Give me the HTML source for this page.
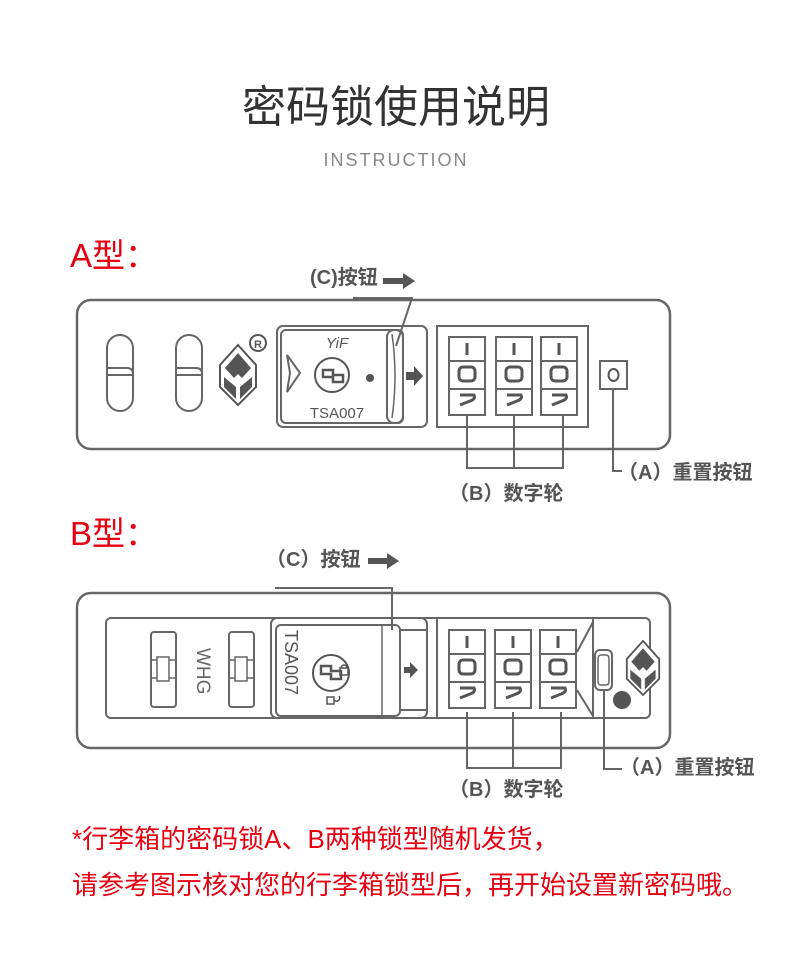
<!DOCTYPE html>
<html><head><meta charset="utf-8"><style>
html,body{margin:0;padding:0;background:#fff;}
svg{display:block;}
text{font-family:"Liberation Sans","Noto Sans CJK SC",sans-serif;}
</style></head><body>
<svg width="790" height="958" viewBox="0 0 790 958" xmlns="http://www.w3.org/2000/svg">
<defs>
<g id="wheel">
  <rect x="0" y="0" width="36" height="78" fill="#fff" stroke="#666" stroke-width="2"/>
  <line x1="0" y1="24" x2="36" y2="24" stroke="#666" stroke-width="2"/>
  <line x1="0" y1="52" x2="36" y2="52" stroke="#666" stroke-width="2"/>
  <line x1="18" y1="6" x2="18" y2="18" stroke="#555" stroke-width="3"/>
  <rect x="10" y="30" width="16" height="14" rx="4" fill="none" stroke="#555" stroke-width="3"/>
  <path d="M11 58 h14 q2 4 -4 6 l-10 4" fill="none" stroke="#555" stroke-width="3"/>
</g>
<g id="logo">
  <path d="M0 -30 L18 -10 L18 12 L0 30 L-18 12 L-18 -10 Z" fill="#fff" stroke="#555" stroke-width="2"/>
  <path d="M0 -22 L13 -7 L4 3 L0 -1 L-4 3 L-13 -7 Z" fill="#555"/>
  <path d="M-14 2 L-2 12 L-2 24 L-14 12 Z M14 2 L2 12 L2 24 L14 12 Z" fill="#555"/>
</g>
</defs>

<text x="396" y="122" text-anchor="middle" font-size="44" fill="#333">密码锁使用说明</text>
<text x="396" y="166" text-anchor="middle" font-size="18" fill="#888" letter-spacing="2">INSTRUCTION</text>

<text x="70" y="267" font-size="33" fill="#e60012">A型：</text>

<!-- A type -->
<text x="310" y="284" font-size="20" font-weight="bold" fill="#555">(C)按钮</text>
<path d="M383 278 h20 v-5 l12 8 l-12 8 v-5 h-20 z" fill="#555"/>
<polyline points="353,298 412,298 396,346" fill="none" stroke="#666" stroke-width="2"/>
<rect x="77" y="300" width="593" height="149" rx="14" fill="none" stroke="#666" stroke-width="2.5"/>
<rect x="107" y="335" width="26" height="76" rx="13" fill="none" stroke="#666" stroke-width="2"/>
<path d="M107 368 h20 q6 0 6 6" fill="none" stroke="#666" stroke-width="2"/>
<line x1="107" y1="375" x2="133" y2="375" stroke="#666" stroke-width="2"/>
<rect x="176" y="335" width="26" height="76" rx="13" fill="none" stroke="#666" stroke-width="2"/>
<path d="M176 368 h20 q6 0 6 6" fill="none" stroke="#666" stroke-width="2"/>
<line x1="176" y1="375" x2="202" y2="375" stroke="#666" stroke-width="2"/>
<use href="#logo" x="238" y="375"/>
<circle cx="258" cy="343" r="8" fill="none" stroke="#555" stroke-width="2"/>
<text x="258" y="348" text-anchor="middle" font-size="11" font-weight="bold" fill="#555">R</text>
<rect x="277" y="326" width="150" height="101" rx="6" fill="none" stroke="#666" stroke-width="2"/>
<rect x="281" y="330" width="122" height="93" rx="5" fill="none" stroke="#666" stroke-width="2"/>
<rect x="387" y="330" width="16" height="93" rx="7" fill="none" stroke="#666" stroke-width="2"/>
<path d="M392 334 q6 42 0 84" fill="none" stroke="#666" stroke-width="1.5"/>
<text x="337" y="348" text-anchor="middle" font-size="15" font-style="italic" font-family="Liberation Serif" fill="#555">YiF</text>
<path d="M287 355 L300 373 L287 392 L290 373 Z" fill="none" stroke="#666" stroke-width="2"/>
<circle cx="332" cy="375" r="17" fill="none" stroke="#555" stroke-width="2"/>
<path d="M323 370 h10 v5 h10 v7 h-10 v-5 h-10 z" fill="none" stroke="#555" stroke-width="2.5"/>
<circle cx="370" cy="378" r="4" fill="#555"/>
<text x="337" y="418" text-anchor="middle" font-size="15" fill="#555">TSA007</text>
<path d="M406 372 h8 v-6 l9 10 l-9 10 v-6 h-8 z" fill="#555"/>
<rect x="437" y="326" width="151" height="101" fill="none" stroke="#666" stroke-width="2"/>
<use href="#wheel" x="449" y="337"/>
<use href="#wheel" x="496" y="337"/>
<use href="#wheel" x="541" y="337"/>
<rect x="600" y="361" width="27" height="28" fill="none" stroke="#666" stroke-width="2"/>
<ellipse cx="613.5" cy="375" rx="5" ry="6" fill="none" stroke="#555" stroke-width="2"/>
<polyline points="467,415 467,468 563,468 563,415" fill="none" stroke="#666" stroke-width="2"/>
<line x1="514" y1="415" x2="514" y2="468" stroke="#666" stroke-width="2"/>
<polyline points="613,389 613,471 622,471" fill="none" stroke="#666" stroke-width="2"/>
<text x="618" y="479" font-size="20" fill="#555" font-weight="bold">（A）重置按钮</text>
<text x="449" y="500" font-size="20" fill="#555" font-weight="bold">（B）数字轮</text>

<text x="70" y="545" font-size="33" fill="#e60012">B型：</text>

<!-- B type -->
<text x="266" y="566" font-size="20" font-weight="bold" fill="#555">（C）按钮</text>
<path d="M368 558 h19 v-5 l12 8 l-12 8 v-5 h-19 z" fill="#555"/>
<polyline points="275,588 392,588 392,630" fill="none" stroke="#666" stroke-width="2"/>
<rect x="77" y="593" width="593" height="155" rx="14" fill="none" stroke="#666" stroke-width="2.5"/>
<rect x="106" y="618" width="544" height="100" rx="5" fill="none" stroke="#666" stroke-width="2"/>
<rect x="151" y="632" width="25" height="75" rx="3" fill="none" stroke="#666" stroke-width="2"/>
<path d="M151 660 h6 v-3 h12 v3 h7 M151 678 h6 v3 h12 v-3 h7 M157 660 v18 M169 660 v18" fill="none" stroke="#666" stroke-width="1.5"/>
<rect x="229" y="632" width="25" height="75" rx="3" fill="none" stroke="#666" stroke-width="2"/>
<path d="M229 660 h6 v-3 h12 v3 h7 M229 678 h6 v3 h12 v-3 h7 M235 660 v18 M247 660 v18" fill="none" stroke="#666" stroke-width="1.5"/>
<text x="0" y="0" transform="translate(197,648) rotate(90)" font-size="19" fill="#666">WHG</text>
<rect x="271" y="618" width="156" height="100" rx="6" fill="none" stroke="#666" stroke-width="2"/>
<rect x="276" y="625" width="124" height="91" rx="5" fill="none" stroke="#666" stroke-width="2"/>
<line x1="382" y1="625" x2="382" y2="716" stroke="#666" stroke-width="1.5"/>
<line x1="400" y1="630" x2="427" y2="630" stroke="#666" stroke-width="2"/>
<line x1="400" y1="710" x2="427" y2="710" stroke="#666" stroke-width="2"/>
<text x="0" y="0" transform="translate(285,630) rotate(90)" font-size="18" fill="#555">TSA007</text>
<circle cx="331" cy="673" r="18" fill="none" stroke="#555" stroke-width="2"/>
<path d="M321 666 h10 v5 h10 v8 h-10 v-5 h-10 z" fill="none" stroke="#555" stroke-width="2.5"/>
<rect x="340" y="668" width="8" height="7" fill="none" stroke="#555" stroke-width="1.5"/>
<path d="M341 668 a3 3 0 0 1 6 0" fill="none" stroke="#555" stroke-width="1.5"/>
<rect x="327" y="697" width="7" height="7" fill="none" stroke="#555" stroke-width="1.5"/>
<path d="M334 700 a3 3 0 0 0 5 -4" fill="none" stroke="#555" stroke-width="1.5"/>
<path d="M404 667 h6 v-5 l8 8 l-8 8 v-5 h-6 z" fill="#555"/>
<line x1="437" y1="618" x2="437" y2="718" stroke="#666" stroke-width="2"/>
<use href="#wheel" x="449" y="630"/>
<use href="#wheel" x="495" y="630"/>
<use href="#wheel" x="540" y="630"/>
<path d="M577 652 L593 622 M577 690 L593 716 M593 618 L593 718" fill="none" stroke="#666" stroke-width="2"/>
<rect x="595" y="650" width="17" height="40" rx="5" fill="none" stroke="#666" stroke-width="2"/>
<rect x="598" y="655" width="11" height="30" rx="3" fill="none" stroke="#666" stroke-width="1.5"/>
<circle cx="622" cy="700" r="9" fill="#555"/>
<use href="#logo" x="643" y="668" transform="translate(643,668) scale(0.9) translate(-643,-668)"/>
<polyline points="467,712 467,768 561,768 561,712" fill="none" stroke="#666" stroke-width="2"/>
<line x1="513" y1="712" x2="513" y2="768" stroke="#666" stroke-width="2"/>
<polyline points="604,690 604,769 622,769" fill="none" stroke="#666" stroke-width="2"/>
<text x="620" y="774" font-size="20" fill="#555" font-weight="bold">（A）重置按钮</text>
<text x="449" y="796" font-size="20" fill="#555" font-weight="bold">（B）数字轮</text>

<text x="72" y="848" font-size="26" fill="#e60012">*行李箱的密码锁A、B两种锁型随机发货，</text>
<text x="72" y="894" font-size="26" fill="#e60012">请参考图示核对您的行李箱锁型后，再开始设置新密码哦。</text>
</svg>
</body></html>
